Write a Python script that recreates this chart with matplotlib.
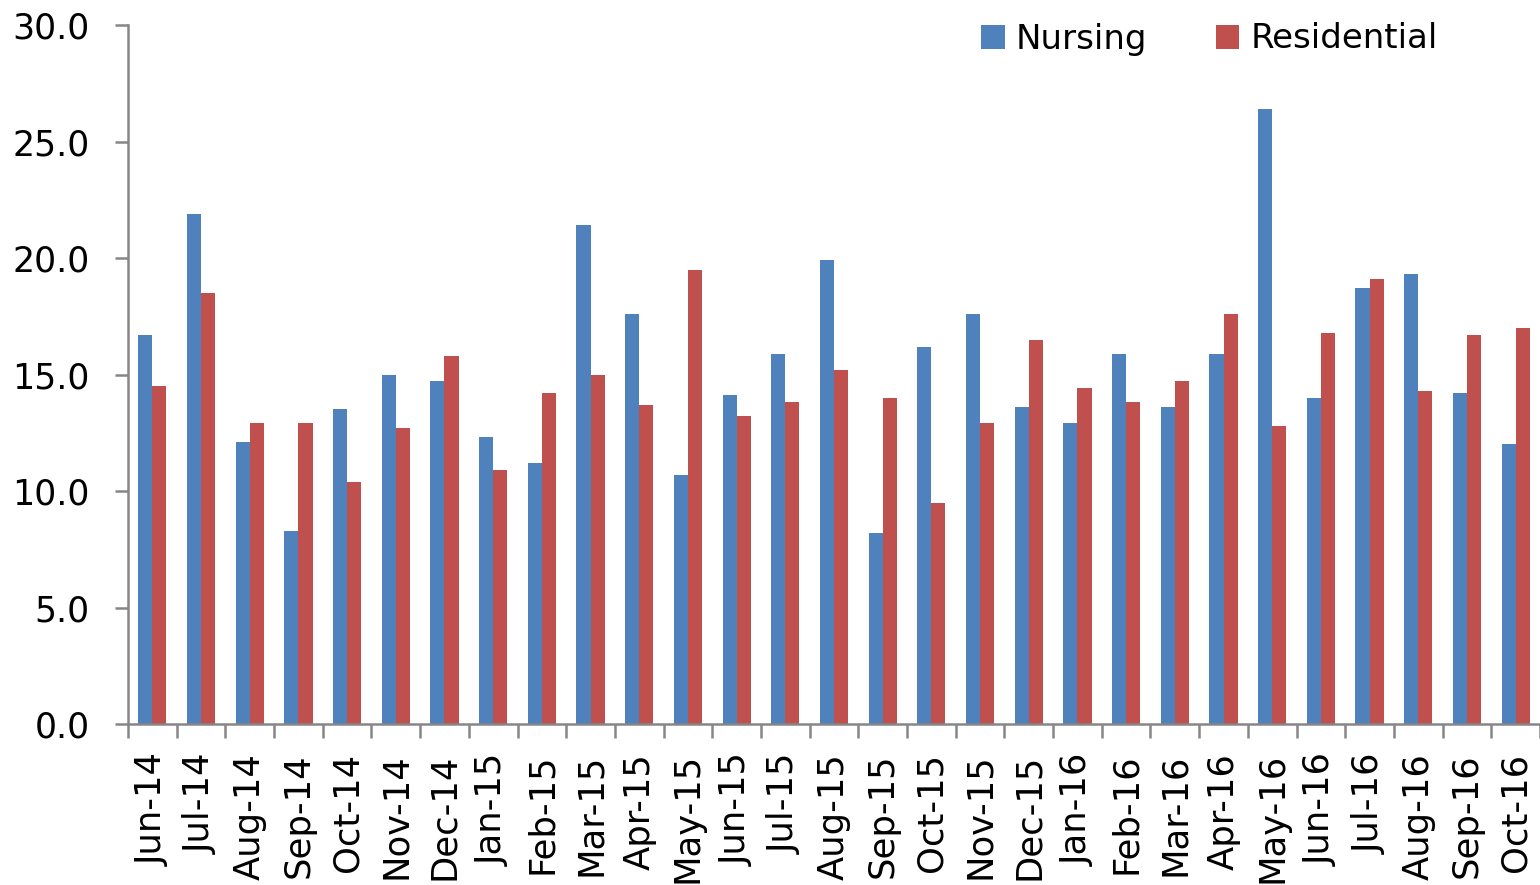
import numpy as np
import matplotlib.pyplot as plt
from matplotlib.ticker import FixedLocator, FormatStrFormatter

# Monthly values
months = ["Jun-14", "Jul-14", "Aug-14", "Sep-14", "Oct-14", "Nov-14", "Dec-14",
          "Jan-15", "Feb-15", "Mar-15", "Apr-15", "May-15", "Jun-15", "Jul-15",
          "Aug-15", "Sep-15", "Oct-15", "Nov-15", "Dec-15",
          "Jan-16", "Feb-16", "Mar-16", "Apr-16", "May-16", "Jun-16", "Jul-16",
          "Aug-16", "Sep-16", "Oct-16"]
nursing = [16.7, 21.9, 12.1, 8.3, 13.5, 15.0, 14.7,
           12.3, 11.2, 21.4, 17.6, 10.7, 14.1, 15.9,
           19.9, 8.2, 16.2, 17.6, 13.6,
           12.9, 15.9, 13.6, 15.9, 26.4, 14.0, 18.7,
           19.3, 14.2, 12.0]
residential = [14.5, 18.5, 12.9, 12.9, 10.4, 12.7, 15.8,
               10.9, 14.2, 15.0, 13.7, 19.5, 13.2, 13.8,
               15.2, 14.0, 9.5, 12.9, 16.5,
               14.4, 13.8, 14.7, 17.6, 12.8, 16.8, 19.1,
               14.3, 16.7, 17.0]

BLUE = "#4F81BD"
RED = "#C0504D"
AXIS_GREY = "#868686"

fig = plt.figure(figsize=(15.4, 8.85), dpi=100)
ax = fig.add_axes([128 / 1540, 1 - 724 / 885, 1 - 128 / 1540, (724 - 25) / 885])

x = np.arange(len(months))
w = 0.29
ax.bar(x - w / 2, nursing, width=w, color=BLUE, label="Nursing")
ax.bar(x + w / 2, residential, width=w, color=RED, label="Residential")

ax.set_xlim(-0.5, len(months) - 0.5)
ax.set_ylim(0, 30)
ax.set_yticks(np.arange(0, 31, 5))
ax.yaxis.set_major_formatter(FormatStrFormatter("%.1f"))

# tick marks sit between categories, labels sit under the category centres
ax.xaxis.set_major_locator(FixedLocator(np.arange(-0.5, len(months), 1)))
ax.xaxis.set_minor_locator(FixedLocator(x))
ax.set_xticklabels([], minor=False)
ax.set_xticklabels(months, minor=True, rotation=90)

for side in ["top", "right"]:
    ax.spines[side].set_visible(False)
for side in ["left", "bottom"]:
    ax.spines[side].set_color(AXIS_GREY)
    ax.spines[side].set_linewidth(1.8)

ax.tick_params(axis="y", direction="out", length=9.5, width=1.8, color=AXIS_GREY,
               labelsize=25, pad=18)
ax.tick_params(axis="x", which="major", direction="out", length=10, width=1.8,
               color=AXIS_GREY)
ax.tick_params(axis="x", which="minor", length=0, labelsize=25.5, pad=21)

fig.legend(loc="center left", bbox_to_anchor=(981 / 1540, 1 - 39 / 885), ncol=2,
           frameon=False, fontsize=24.5, handlelength=0.7, handleheight=0.7,
           handletextpad=0.33, columnspacing=2.0, borderpad=0, borderaxespad=0)

fig.savefig("out.png", dpi=100)
